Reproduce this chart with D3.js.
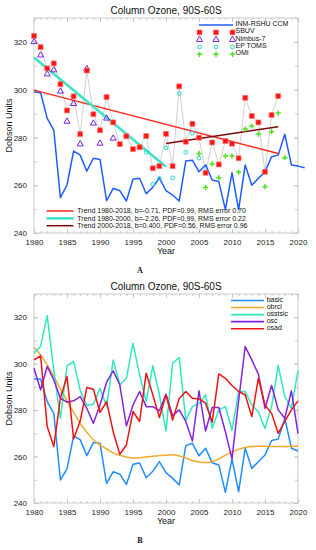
<!DOCTYPE html>
<html><head><meta charset="utf-8">
<script src="https://cdn.jsdelivr.net/npm/d3@7"></script>
<style>
html,body{margin:0;padding:0;background:#fff;}
svg{display:block;font-family:"Liberation Sans",Arial,sans-serif;}
</style></head><body>
<svg id="c" width="316" height="550"></svg>
<script>
// ---------- shared axes ----------
const xDomain = [1980, 2020];
const yDomain = [240, 330];
const xTickLabels = [1980, 1985, 1990, 1995, 2000, 2005, 2010, 2015, 2020];
const yTickLabels = [240, 260, 280, 300, 320];
const titleText = "Column Ozone, 90S-60S";
const yAxisLabel = "Dobson Units";
const xAxisLabel = "Year";

// ---------- Panel A data ----------
const ccmStart = 1980;
const ccmValues = [299.1,298.7,288.0,283.1,254.8,260.1,274.3,272.6,265.9,271.3,
  270.8,253.5,258.7,257.7,253.4,262.5,262.9,256.4,259.1,263.1,
  257.7,255.9,253.4,270.1,270.5,265.6,268.5,262.2,261.5,249.8,
  265.2,249.7,268.5,260.0,262.9,265.6,271.9,272.6,281.3,268.5,268.0,267.3];
const sbuvStart = 1980;
const sbuvValues = [322.5,317.8,308.9,311.0,302.3,291.3,297.2,281.4,308.0,289.7,
  283.0,296.9,286.3,277.2,280.5,275.1,275.9,280.6,267.1,268.0,
  281.5,268.0,301.4,278.2,285.7,279.9,265.2,277.9,268.7,278.5,
  277.4,271.3,296.6,289.0,286.3,265.6,289.4,297.3];
const nimbusStart = 1980;
const nimbusValues = [320.0,314.4,306.5,308.2,299.3,286.7,294.1,277.2,308.7,285.9,277.5,288.0,279.6];
const tomsStart = 1997;
const tomsValues = [273.8,260.4,262.9,275.7,263.1,298.4,273.8,281.8,271.3];
const omiStart = 2005;
const omiValues = [273.3,259.0,268.9,263.1,272.2,272.2,265.5,283.5,284.8,281.4,259.4,282.4,290.2,271.5];

const trendLabels = [
  "Trend 1980-2018, b=-0.71, PDF=0.99, RMS error 0.70",
  "Trend 1980-2000, b=-2.26, PDF=0.99, RMS error 0.22",
  "Trend 2000-2018, b=0.400, PDF=0.56, RMS error 0.96"];
const trendYears = [[1980, 2017], [1980, 2000], [2000, 2017]];
const trendValues = [[299.8, 273.3], [313.5, 267.7], [277.5, 284.5]];
const trendColors = ["#ff2a1a", "#3fe3c6", "#7a0a0a"];
const trendWidths = [1.5, 2.6, 1.5];

const legendANames = ["INM-RSHU CCM", "SBUV", "Nimbus-7", "EP TOMS", "OMI"];

// ---------- Panel B data ----------
const bStart = 1980;
const bNames = ["basic", "obrcl", "osstsic", "osc", "osad"];
const bColors = ["#1f8cff", "#f0a828", "#2fe8bf", "#8424dc", "#ee1313"];
const basicValues = [293.4,293.4,283.7,278.6,249.9,254.7,268.8,267.3,260.4,266.0,
  265.7,248.5,253.5,252.4,248.0,256.7,257.2,250.9,253.7,257.8,
  253.1,250.6,247.8,264.7,265.7,260.3,263.6,257.3,256.4,244.6,
  259.0,244.8,263.6,254.9,257.8,260.7,266.9,267.5,276.5,263.6,262.4];
const obrclValues = [307.0,303.8,299.5,294.5,289.1,284.0,279.1,274.3,270.5,267.2,
  265.0,263.3,261.6,260.5,259.8,259.4,259.5,259.8,260.1,260.4,
  260.6,260.8,260.3,259.4,258.3,257.7,257.4,257.8,259.0,260.6,
  262.0,263.1,263.9,264.3,264.4,264.4,264.3,264.3,264.3,264.4,264.4];
const osstsicValues = [304.5,307.5,320.7,297.3,276.5,299.1,301.0,288.5,282.0,282.5,
  289.4,281.5,301.6,290.9,293.7,308.8,295.2,283.7,299.1,286.6,
  271.0,300.2,302.6,275.7,281.5,282.9,286.6,272.2,280.1,281.5,
  271.3,288.0,288.0,282.2,279.3,272.1,281.5,299.2,285.8,280.8,296.9];
const oscValues = [298.0,288.7,298.8,293.0,285.1,283.4,284.0,285.8,280.8,274.3,
  282.2,292.0,296.9,290.9,273.2,282.2,288.0,281.5,281.5,279.7,
  286.8,277.6,280.1,275.1,266.7,288.3,271.0,281.1,281.1,270.7,
  259.0,284.0,307.4,301.6,295.5,280.8,290.6,280.1,276.5,288.3,270.0];
const osadValues = [301.6,303.4,272.9,264.3,285.1,294.5,267.6,275.3,289.7,289.0,
  279.0,283.7,270.7,261.0,265.0,279.4,275.1,295.9,286.6,276.8,
  286.6,275.7,285.0,288.0,285.1,284.8,283.0,274.8,295.6,293.7,
  290.6,288.0,286.6,277.2,293.7,282.2,278.6,270.0,275.1,280.1,284.0];
const bSeries = [basicValues, obrclValues, osstsicValues, oscValues, osadValues];

// ---------- drawing ----------
const svg = d3.select("#c");
const frameColor = "#bdbdbd";
const toPts = (start, vals) => vals.map((v, i) => ({yr: start + i, v}));

function makePanel(cfg) {
  const x = d3.scaleLinear().domain(xDomain).range([cfg.left, cfg.right]);
  const y = d3.scaleLinear().domain(yDomain).range([cfg.bottom, cfg.top]);
  const g = svg.append("g");
  g.append("rect").attr("x", cfg.left).attr("y", cfg.top)
    .attr("width", cfg.right - cfg.left).attr("height", cfg.bottom - cfg.top)
    .attr("fill", "none").attr("stroke", frameColor).attr("stroke-width", 0.8);
  const style = sel => {
    sel.select(".domain").remove();
    sel.selectAll(".tick line").attr("stroke", frameColor).attr("stroke-width", 0.8);
    sel.selectAll("text").attr("font-size", 8).attr("fill", "#1a1a1a")
      .attr("font-family", "'Liberation Sans',Arial,sans-serif");
  };
  // minor ticks
  const minorX = x.ticks(40), minorY = y.ticks(9);
  g.append("g").attr("transform", `translate(0,${cfg.bottom})`)
    .call(d3.axisBottom(x).tickValues(minorX).tickFormat("").tickSizeInner(-2).tickSizeOuter(0)).call(style);
  g.append("g").attr("transform", `translate(0,${cfg.top})`)
    .call(d3.axisTop(x).tickValues(minorX).tickFormat("").tickSizeInner(-2).tickSizeOuter(0)).call(style);
  g.append("g").attr("transform", `translate(${cfg.left},0)`)
    .call(d3.axisLeft(y).tickValues(minorY).tickFormat("").tickSizeInner(-3).tickSizeOuter(0)).call(style);
  g.append("g").attr("transform", `translate(${cfg.right},0)`)
    .call(d3.axisRight(y).tickValues(minorY).tickFormat("").tickSizeInner(-3).tickSizeOuter(0)).call(style);
  // major ticks with labels
  g.append("g").attr("transform", `translate(0,${cfg.bottom})`)
    .call(d3.axisBottom(x).tickValues(xTickLabels).tickFormat(d3.format("d")).tickSizeInner(-4).tickSizeOuter(0).tickPadding(6)).call(style);
  g.append("g").attr("transform", `translate(0,${cfg.top})`)
    .call(d3.axisTop(x).tickValues(xTickLabels).tickFormat("").tickSizeInner(-4).tickSizeOuter(0)).call(style);
  g.append("g").attr("transform", `translate(${cfg.left},0)`)
    .call(d3.axisLeft(y).tickValues(yTickLabels).tickFormat(d3.format("d")).tickSizeInner(-4).tickSizeOuter(0).tickPadding(7)).call(style);
  g.append("g").attr("transform", `translate(${cfg.right},0)`)
    .call(d3.axisRight(y).tickValues(yTickLabels).tickFormat("").tickSizeInner(-4).tickSizeOuter(0)).call(style);
  // titles
  const cx = 166;
  g.append("text").attr("x", cx).attr("y", cfg.top - 3.8).attr("text-anchor", "middle")
    .attr("font-size", 10).attr("fill", "#111").text(titleText);
  g.append("text").attr("x", cx).attr("y", cfg.bottom + 21).attr("text-anchor", "middle")
    .attr("font-size", 9).attr("fill", "#111").text(xAxisLabel);
  const my = (cfg.top + cfg.bottom) / 2;
  g.append("text").attr("transform", `translate(12,${my}) rotate(-90)`).attr("text-anchor", "middle")
    .attr("font-size", 9).attr("fill", "#111").text(yAxisLabel);
  g.append("text").attr("x", 140).attr("y", cfg.bottom + 40).attr("text-anchor", "middle")
    .attr("font-size", 8).attr("font-weight", "bold").attr("fill", "#111")
    .attr("font-family", "'Liberation Serif','Times New Roman',serif").text(cfg.letter);
  return {x, y, g};
}

// ----- Panel A -----
(function () {
  const {x, y, g} = makePanel({left: 34, right: 298, top: 18, bottom: 233, letter: "A"});
  const line = d3.line().x(d => x(d.yr)).y(d => y(d.v));
  const sbuv = toPts(sbuvStart, sbuvValues);
  g.append("path").datum(sbuv).attr("d", line).attr("fill", "none").attr("stroke", "#c4c4c4").attr("stroke-width", 0.8);
  g.append("path").datum(toPts(ccmStart, ccmValues)).attr("d", line)
    .attr("fill", "none").attr("stroke", "#1f5cff").attr("stroke-width", 1.5).attr("stroke-linejoin", "round");
  trendYears.forEach((ty, i) => {
    const pts = ty.map((yr, k) => ({yr, v: trendValues[i][k]}));
    g.append("path").datum(pts).attr("d", line).attr("fill", "none")
      .attr("stroke", trendColors[i]).attr("stroke-width", trendWidths[i]);
  });
  const sq = d3.symbol().type(d3.symbolSquare).size(24)();
  const tri = d3.symbol().type(d3.symbolTriangle).size(16)();
  const plus = "M-2.6,0H2.6M0,-2.6V2.6";
  const drawSym = (pts, path, fill, stroke, sw) => g.append("g").selectAll("path").data(pts).join("path")
    .attr("transform", d => `translate(${x(d.yr)},${y(d.v)})`).attr("d", path)
    .attr("fill", fill).attr("stroke", stroke).attr("stroke-width", sw);
  drawSym(toPts(nimbusStart, nimbusValues), tri, "none", "#7a22d8", 1);
  drawSym(toPts(tomsStart, tomsValues), d3.symbol().type(d3.symbolCircle).size(11)(), "none", "#22d8c8", 1);
  drawSym(toPts(omiStart, omiValues), plus, "none", "#4fe021", 1.5);
  drawSym(sbuv, sq, "#ff1414", "#ff7070", 0.7);

  // legend top-right
  const lg = g.append("g");
  const rowY = i => 23.6 + 7.3 * i;
  lg.append("line").attr("x1", 199).attr("x2", 233).attr("y1", 25).attr("y2", 25)
    .attr("stroke", "#1f5cff").attr("stroke-width", 1.5);
  const symDefs = [null, [sq, "#ff1414", "#ff7070", 0.7], [tri, "none", "#7a22d8", 1],
    [d3.symbol().type(d3.symbolCircle).size(11)(), "none", "#22d8c8", 1], [plus, "none", "#4fe021", 1.5]];
  legendANames.forEach((name, i) => {
    lg.append("text").attr("x", 235.5).attr("y", rowY(i) + 2.5).attr("font-size", 7).attr("fill", "#111").text(name);
    if (i > 0) {
      [199.5, 216, 232.5].forEach(sx => {
        const s = symDefs[i];
        lg.append("path").attr("transform", `translate(${sx},${rowY(i) + 1.5})`).attr("d", s[0])
          .attr("fill", s[1]).attr("stroke", s[2]).attr("stroke-width", s[3]);
      });
    }
  });
  // trend legend
  trendLabels.forEach((t, i) => {
    const ly = 211 + 7.35 * i;
    g.append("line").attr("x1", 46.5).attr("x2", 73.5).attr("y1", ly).attr("y2", ly)
      .attr("stroke", trendColors[i]).attr("stroke-width", trendWidths[i]);
    g.append("text").attr("x", 77.3).attr("y", ly + 2.4).attr("font-size", 7).attr("fill", "#111").text(t);
  });
})();

// ----- Panel B -----
(function () {
  const {x, y, g} = makePanel({left: 34, right: 298, top: 294, bottom: 503, letter: "B"});
  bSeries.forEach((vals, i) => {
    const line = d3.line().x(d => x(d.yr)).y(d => y(d.v))
      .curve(bNames[i] === "obrcl" ? d3.curveMonotoneX : d3.curveLinear);
    g.append("path").datum(toPts(bStart, vals)).attr("d", line).attr("fill", "none")
      .attr("stroke", bColors[i]).attr("stroke-width", 1.5).attr("stroke-linejoin", "round");
  });
  bNames.forEach((n, i) => {
    const ly = 300.5 + 7.05 * i;
    g.append("line").attr("x1", 231).attr("x2", 264).attr("y1", ly).attr("y2", ly)
      .attr("stroke", bColors[i]).attr("stroke-width", 1.6);
    g.append("text").attr("x", 266.7).attr("y", ly + 1.2).attr("font-size", 7).attr("fill", "#111").text(n);
  });
})();
</script>
</body></html>
